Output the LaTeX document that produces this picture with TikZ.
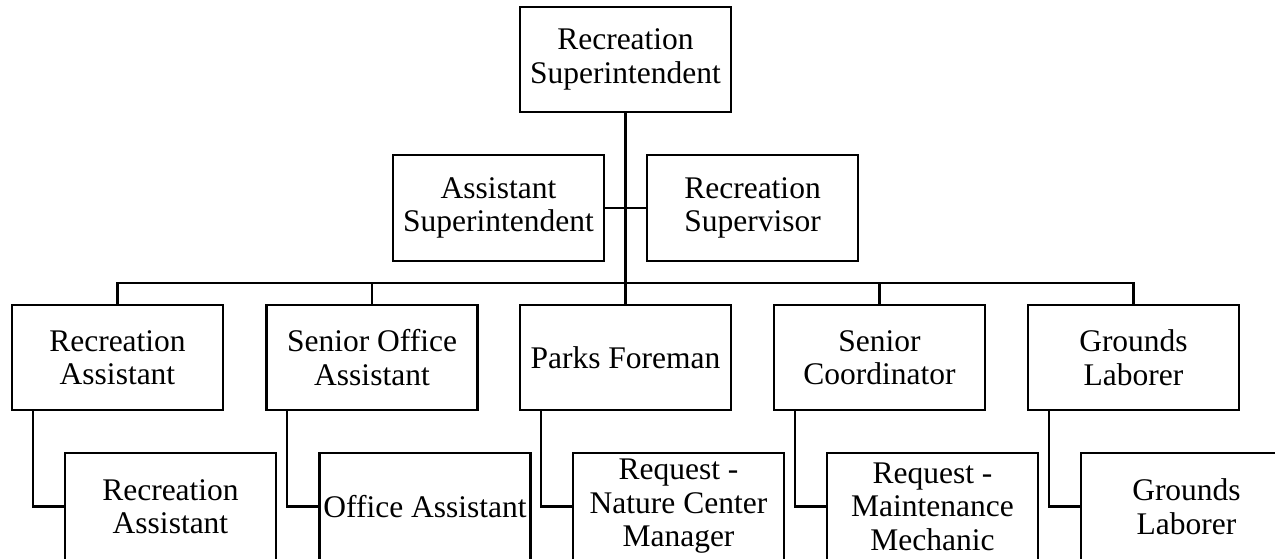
\documentclass[tikz,border=0pt]{standalone}
\usepackage{fontspec}
\setmainfont{Liberation Serif}
\usetikzlibrary{calc}
\begin{document}
\begin{tikzpicture}[x=1pt,y=-1pt,
  box/.style={draw, line width=2.3pt, minimum width=211pt, minimum height=105pt,
              inner sep=0pt, align=center, font=\fontsize{31.5}{33.5}\selectfont},
  lowbox/.style={box, minimum height=107pt},
  link/.style={line width=2.1pt},
  trunk/.style={line width=3.2pt}]
\useasboundingbox (0,0) rectangle (1275,558);
\clip (0,0) rectangle (1275,558);

% top of the chart
\node[box] (top) at (625.5,59.5) {Recreation\\Superintendent};
\node[box, minimum height=106pt] (asst) at (498.5,208) {Assistant\\Superintendent};
\node[box, minimum height=106pt] (sup)  at (752.5,208) {Recreation\\Supervisor};

% first row of positions
\node[box] (ra)  at (117.5,357.5) {Recreation\\Assistant};
\node[box] (soa) at (372,357.5)   {Senior Office\\Assistant};
\node[box] (pf)  at (625.5,357.5) {Parks Foreman};
\node[box] (sc)  at (879.5,357.5) {Senior\\Coordinator};
\node[box] (gl)  at (1133.5,357.5) {Grounds\\Laborer};

% second row of positions
\node[lowbox] (ra2)  at (170.5,506.5) {Recreation\\Assistant};
\node[lowbox] (oa)   at (425,506.5)   {Office Assistant};
\node[lowbox] (ncm)  at (678.5,506.5) {Request -\\Nature Center\\Manager};
\node[lowbox] (mm)   at (932.5,506.5) {Request -\\Maintenance\\Mechanic};
\node[lowbox] (gl2)  at (1186.5,506.5) {Grounds\\Laborer};

\coordinate (bus) at (0,283);

% main trunk and side branch
\draw[trunk] (top.south) -- (pf.north);
\draw[link] (asst.east) -- (sup.west);

% distribution bus to the first row
\draw[link] (ra.north) -- (ra.north |- bus) -- (gl.north |- bus) -- (gl.north);
\draw[link] (soa.north) -- (soa.north |- bus);
\draw[link] (sc.north) -- (sc.north |- bus);

% elbows down to the second row
\foreach \a/\b in {ra/ra2, soa/oa, pf/ncm, sc/mm, gl/gl2}
  \draw[link] ($(\a.south west)+(22,0)$) |- (\b.west);
\end{tikzpicture}
\end{document}
